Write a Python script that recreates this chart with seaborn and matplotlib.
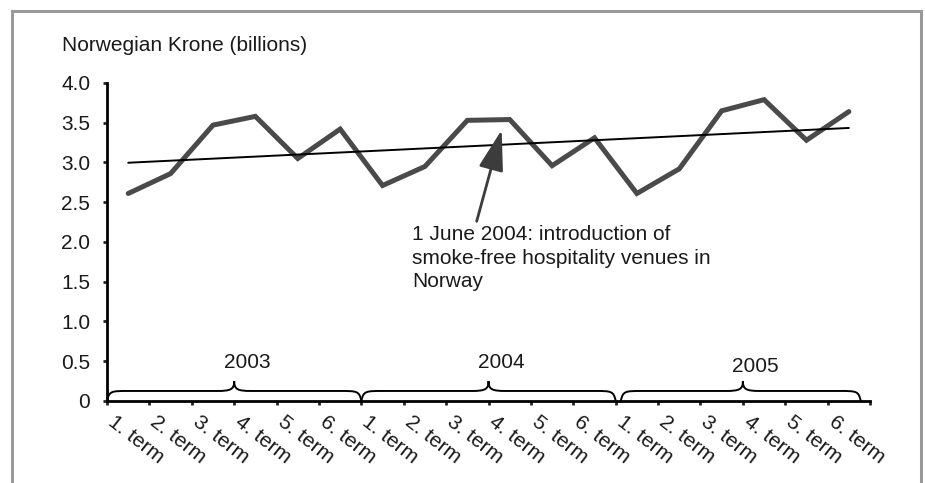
import numpy as np
import matplotlib.pyplot as plt
import matplotlib.transforms as mtransforms
from matplotlib.path import Path
from matplotlib.patches import PathPatch, Rectangle
import seaborn as sns

# data
years = ["2003", "2004", "2005"]
terms = ["1. term", "2. term", "3. term", "4. term", "5. term", "6. term"]
revenue = [2.61, 2.86, 3.47, 3.58, 3.05, 3.42,
           2.71, 2.95, 3.53, 3.54, 2.96, 3.31,
           2.61, 2.92, 3.65, 3.79, 3.28, 3.64]
y_ticks = [0, 0.5, 1.0, 1.5, 2.0, 2.5, 3.0, 3.5, 4.0]
y_ticklabels = ["0", "0.5", "1.0", "1.5", "2.0", "2.5", "3.0", "3.5", "4.0"]
note = "1 June 2004: introduction of\nsmoke-free hospitality venues in\nNorway"

sns.set_theme(style="ticks")
plt.rcParams["font.family"] = ["Liberation Sans", "DejaVu Sans"]

FS = 15
TXT = "#1a1a1a"

fig = plt.figure(figsize=(9.25, 4.83), dpi=100)
ax = fig.add_axes([0.1157, 0.1698, 0.8249, 0.6584])

idx = np.arange(len(revenue))
labels = terms * len(years)

sns.lineplot(x=idx, y=revenue, ax=ax, color="#4a4a4a", linewidth=3.6,
             solid_joinstyle="miter")
sns.regplot(x=idx, y=revenue, ax=ax, scatter=False, ci=None, truncate=True,
            line_kws=dict(color="black", linewidth=1.4))

ax.set_xlim(-0.5, len(revenue) - 0.5)
ax.set_ylim(0, 4)
sns.despine(ax=ax)
for s in ["left", "bottom"]:
    ax.spines[s].set_linewidth(2)
    ax.spines[s].set_color("black")

# tick marks on the boundaries, labels on the centres
ax.set_xticks(np.arange(-0.5, len(revenue), 1.0))
ax.set_xticklabels([])
ax.set_xticks(idx, minor=True)
ax.set_xticklabels(labels, minor=True, rotation=-38, ha="left", va="top",
                   rotation_mode="anchor", fontsize=FS, color=TXT)
ax.tick_params(axis="x", which="major", length=3, width=2, direction="out")
ax.tick_params(axis="x", which="minor", length=0, pad=8)
shift = mtransforms.ScaledTranslation(-12 / 100, 0, fig.dpi_scale_trans)
for lab in ax.get_xticklabels(minor=True):
    lab.set_transform(lab.get_transform() + shift)

ax.set_yticks(y_ticks)
ax.set_yticklabels(y_ticklabels, fontsize=FS, color=TXT)
ax.tick_params(axis="y", length=3, width=2, direction="out", pad=9)
ax.set_xlabel("")
ax.set_ylabel("")


def brace(ax, x0, x1, xm, y1=0.126, y2=0.25, r=0.5, rp=0.4):
    verts = [(x0, 0), (x0 + 0.05, y1), (x0 + 0.1, y1), (x0 + r, y1),
             (xm - rp, y1),
             (xm - 0.08, y1), (xm, y1 + 0.02), (xm, y2),
             (xm, y1 + 0.02), (xm + 0.08, y1), (xm + rp, y1),
             (x1 - r, y1),
             (x1 - 0.1, y1), (x1 - 0.05, y1), (x1, 0)]
    codes = [Path.MOVETO, Path.CURVE4, Path.CURVE4, Path.CURVE4,
             Path.LINETO,
             Path.CURVE4, Path.CURVE4, Path.CURVE4,
             Path.CURVE4, Path.CURVE4, Path.CURVE4,
             Path.LINETO,
             Path.CURVE4, Path.CURVE4, Path.CURVE4]
    ax.add_patch(PathPatch(Path(verts, codes), fill=False, lw=1.4,
                           edgecolor="black", clip_on=False))


n = len(terms)
year_label_y = [0.48, 0.49, 0.43]
for k, yr in enumerate(years):
    x0 = k * n - 0.5
    x1 = x0 + n
    xm = (x0 + x1) / 2
    if k == len(years) - 1:
        x0, x1 = x0 + 0.12, x1 - 0.22
    brace(ax, x0, x1, xm)
    ax.text(xm + 0.3, year_label_y[k], yr, ha="center", va="center",
            fontsize=FS, color=TXT)

# annotation arrow + note
ax.annotate("", xy=(8.81, 3.41), xytext=(8.22, 2.26),
            arrowprops=dict(arrowstyle="-|>,head_length=1.8,head_width=0.55",
                            color="#3c3c3c", lw=2, shrinkA=0, shrinkB=0,
                            mutation_scale=14))
ax.text(6.7, 2.21, note, ha="left", va="top", fontsize=FS, color=TXT,
        linespacing=1.3)

fig.text(62 / 925, 1 - 51 / 483, "Norwegian Krone (billions)", ha="left",
         va="baseline", fontsize=FS, color=TXT)

# grey frame around the figure
fig.patches.append(Rectangle((12 / 925, -0.05), (921 - 12) / 925, 1.05 - 11 / 483,
                             transform=fig.transFigure, fill=False,
                             edgecolor="#9a9a9a", linewidth=2.2))

fig.savefig("out.png", dpi=100, facecolor="white")
